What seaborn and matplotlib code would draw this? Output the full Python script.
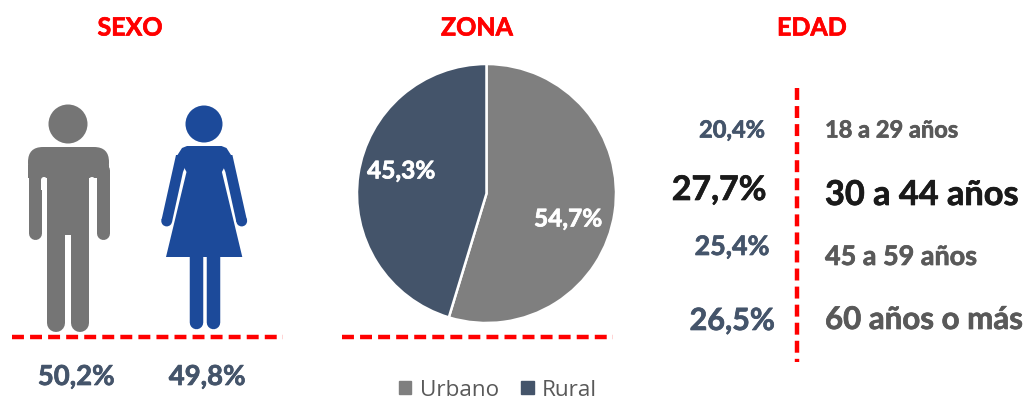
import matplotlib
matplotlib.use("Agg")
import matplotlib.pyplot as plt
import matplotlib.patheffects as pe
import seaborn as sns
from matplotlib.patches import Circle, FancyBboxPatch, Polygon, Rectangle, Patch

sexo_labels = ["Hombre", "Mujer"]
sexo_values = [50.2, 49.8]
zona_labels = ["Urbano", "Rural"]
zona_values = [54.7, 45.3]
edad_labels = ["18 a 29 años", "30 a 44 años", "45 a 59 años", "60 años o más"]
edad_values = [20.4, 27.7, 25.4, 26.5]

GRIS = "#7F7F7F"
GRIS_FIG = "#757575"
AZUL = "#44546A"
AZUL_MUJER = "#1C4A9A"
ROJO = "#FF0000"
TEXTO = "#595959"
NEGRO = "#1A1A1A"


def pct(v):
    return f"{v:.1f}%".replace(".", ",")


sns.set_theme(style="white")
plt.rcParams["font.family"] = ["Lato", "DejaVu Sans"]
plt.rcParams["lines.scale_dashes"] = False

fig = plt.figure(figsize=(10.24, 4), dpi=100)
ax = fig.add_axes([0, 0, 1, 1])
ax.set_xlim(0, 1024)
ax.set_ylim(400, 0)
ax.axis("off")


def limb(x0, y0, x1, y1, w, color):
    ax.plot([x0, x1], [y0, y1], color=color, lw=w * 0.72, solid_capstyle="round")


def dashed(x0, y0, x1, y1):
    ax.plot([x0, x1], [y0, y1], color=ROJO, lw=3.2, dashes=(8.6, 4.4), dash_capstyle="butt")


def label(x, y, s, color, size, ha="center"):
    t = ax.text(x, y, s, color=color, fontsize=size, fontweight="bold", ha=ha, va="center", zorder=10)
    t.set_path_effects([pe.withStroke(linewidth=0.5, foreground=color)])


# hombre
ax.add_patch(Circle((68, 124), 19.5, color=GRIS_FIG, lw=0))
ax.add_patch(FancyBboxPatch((28, 147), 81, 31, boxstyle="round,pad=0,rounding_size=15",
                            color=GRIS_FIG, lw=0))
ax.add_patch(Rectangle((28, 165), 81, 13, color=GRIS_FIG, lw=0))
ax.add_patch(Rectangle((47, 170), 42, 65, color=GRIS_FIG, lw=0))
limb(34.5, 170, 34.5, 233, 13, GRIS_FIG)
limb(102.5, 170, 102.5, 233, 13, GRIS_FIG)
limb(56, 225, 56, 323, 18, GRIS_FIG)
limb(80, 225, 80, 323, 18, GRIS_FIG)
ax.add_patch(Circle((68, 238), 3, color="white", lw=0, zorder=3))
ax.add_patch(Rectangle((65, 238), 6, 12, color="white", lw=0, zorder=3))
for xg in [44, 92]:
    ax.add_patch(Circle((xg, 180), 3, color="white", lw=0, zorder=3))
    ax.add_patch(Rectangle((xg - 3, 180), 6, 10, color="white", lw=0, zorder=3))

# mujer
ax.add_patch(Circle((204, 124), 18.5, color=AZUL_MUJER, lw=0))
ax.add_patch(Polygon([(187, 146), (221.5, 146), (226.5, 148), (231, 155), (221.9, 172), (242.3, 257),
                      (166, 257), (186.5, 172), (177.5, 155), (182, 148)], color=AZUL_MUJER, lw=0))
for sign in [0, 1]:
    brazo = [(176, 155), (161.5, 220), (172, 222), (183, 172), (190, 155)]
    mano = 166.7
    if sign:
        brazo = [(408.4 - x, y) for x, y in brazo]
        mano = 408.4 - mano
    ax.add_patch(Polygon(brazo, color=AZUL_MUJER, lw=0))
    ax.add_patch(Circle((mano, 221), 5.4, color=AZUL_MUJER, lw=0))
limb(195.5, 255, 195.5, 322, 13.5, AZUL_MUJER)
limb(212.5, 255, 212.5, 322, 13.5, AZUL_MUJER)

dashed(12, 337, 283, 337)
dashed(342, 337, 613, 337)
dashed(797, 88, 797, 362)

# titulos
for x, t in zip([130, 477, 812], ["SEXO", "ZONA", "EDAD"]):
    label(x, 28, t, ROJO, 18)

# sexo
for x, v in zip([76, 207], sexo_values):
    label(x, 377, pct(v), AZUL, 19.8)

# edad
edad_pct_x = [732, 719, 732, 732]
edad_pct_y = [130, 190, 247, 321]
edad_pct_fs = [17, 24.4, 19.3, 22]
edad_lab_y = [130, 195, 257, 320]
edad_lab_fs = [17, 24.7, 19.4, 22.5]
for i in range(4):
    c = NEGRO if i == 1 else AZUL
    c2 = NEGRO if i == 1 else TEXTO
    label(edad_pct_x[i], edad_pct_y[i], pct(edad_values[i]), c, edad_pct_fs[i])
    label(825, edad_lab_y[i], edad_labels[i], c2, edad_lab_fs[i], ha="left")

# zona
ax_pie = fig.add_axes([357 / 1024, 1 - 323 / 400, 259 / 1024, 259 / 400])
ax_pie.pie(zona_values, colors=[GRIS, AZUL], startangle=90, counterclock=False, radius=1,
           wedgeprops={"edgecolor": "white", "linewidth": 1.8})
ax_pie.set_xlim(-1, 1)
ax_pie.set_ylim(-1, 1)
for (x, y), v in zip([(568, 219), (401, 171)], zona_values):
    label(x, y, pct(v), "white", 17.6)
ax.set_zorder(2)

handles = [Patch(color=GRIS, label=zona_labels[0]), Patch(color=AZUL, label=zona_labels[1])]
ax.legend(handles=handles, loc="center", bbox_to_anchor=(498 / 1024, 1 - 390 / 400), ncol=2,
          frameon=False, handlelength=0.55, handleheight=0.55, handletextpad=0.37, columnspacing=1.0,
          prop={"family": "Open Sans", "size": 16.2}, labelcolor=TEXTO)

fig.savefig("out.png", dpi=100, facecolor="white")
